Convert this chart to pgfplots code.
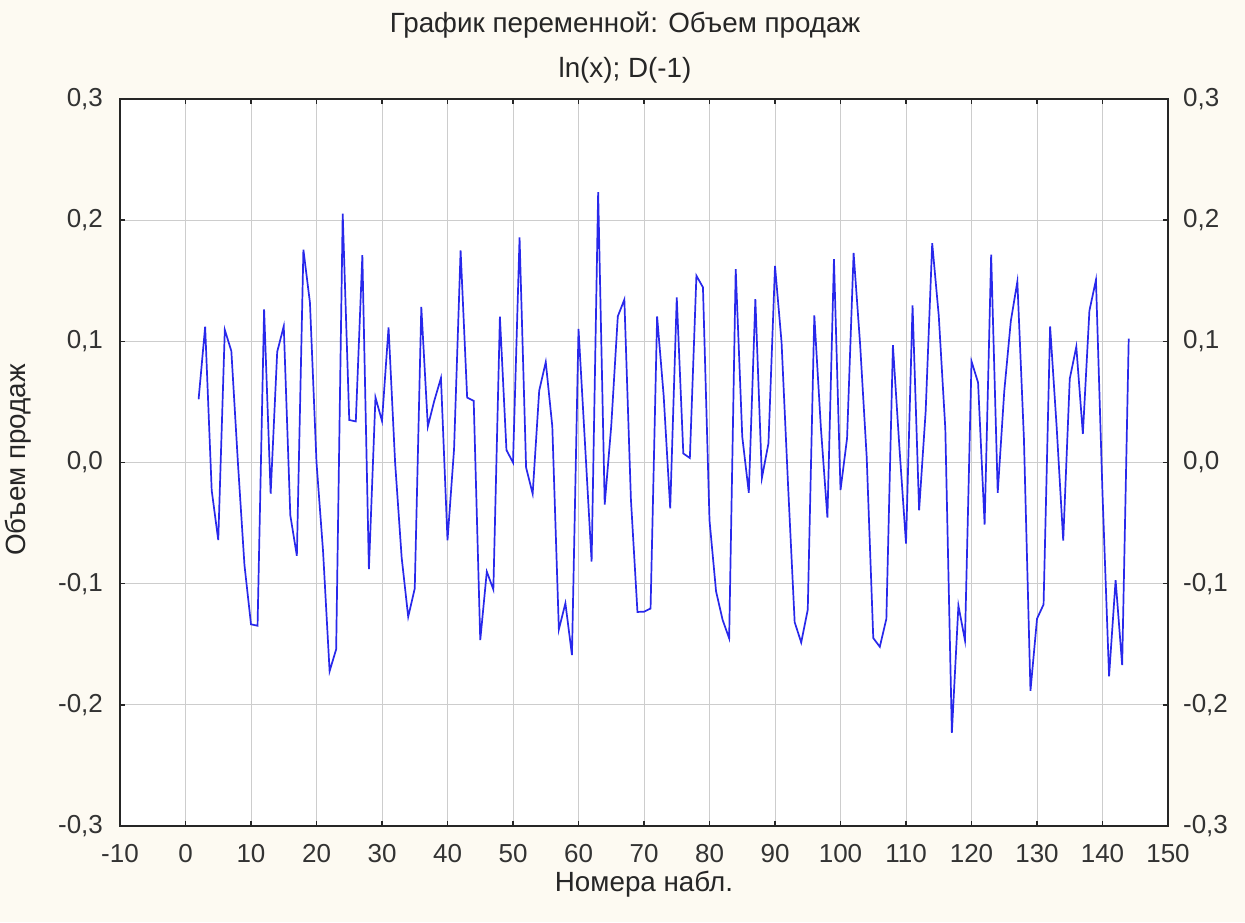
\documentclass[border=0pt]{standalone}
\usepackage{fontspec}
\setmainfont{Liberation Sans}
\usepackage{pgfplots}
\pgfplotsset{compat=1.18}
\definecolor{bgc}{RGB}{253,250,242}
\definecolor{gridc}{RGB}{205,205,205}
\definecolor{linec}{RGB}{40,40,235}
\begin{document}
\begin{tikzpicture}[x=1pt,y=1pt]
\fill[bgc] (0,0) rectangle (622.5,461);
\path[use as bounding box] (0,0) rectangle (622.5,461);
\begin{axis}[
  at={(60pt,48pt)}, anchor=south west,
  scale only axis, width=524pt, height=363.5pt,
  xmin=-10, xmax=150, ymin=-0.3, ymax=0.3,
  xtick={-10,0,...,150}, ytick={-0.3,-0.2,...,0.3},
  axis background/.style={fill=white},
  axis line style={line width=1pt, black!85},
  grid=major, major grid style={gridc, line width=0.5pt},
  tick align=inside, major tick length=2.5pt, tick style={black!85, line width=0.8pt},
  xtick pos=both, ytick pos=both,
  /pgf/number format/assume math mode=true,
  tick label style={font=\fontsize{13}{15}\selectfont, text=black!80},
  xticklabel style={inner sep=1pt, yshift=-8pt},
  yticklabel style={xshift=-5pt, /pgf/number format/.cd, fixed, fixed zerofill, precision=1, use comma},
]
\addplot[linec, line width=0.85pt] coordinates {
(2,0.05219) (3,0.11212) (4,-0.02299) (5,-0.06402) (6,0.10948) (7,0.09194) (8,0) (9,-0.08456) (10,-0.13353) (11,-0.13473)
(12,0.12629) (13,-0.02575) (14,0.09135) (15,0.11248) (16,-0.04349) (17,-0.07696) (18,0.17563) (19,0.13185) (20,0) (21,-0.07320)
(22,-0.17224) (23,-0.15415) (24,0.20544) (25,0.03509) (26,0.03390) (27,0.17115) (28,-0.08803) (29,0.05374) (30,0.03429) (31,0.11152)
(32,0) (33,-0.07837) (34,-0.12734) (35,-0.10399) (36,0.12838) (37,0.02968) (38,0.05129) (39,0.06973) (40,-0.06419) (41,0.01099)
(42,0.17501) (43,0.05358) (44,0.05086) (45,-0.14660) (46,-0.09006) (47,-0.10478) (48,0.12036) (49,0.01026) (50,0) (51,0.18572)
(52,-0.00425) (53,-0.02586) (54,0.05934) (55,0.08289) (56,0.02985) (57,-0.13774) (58,-0.11620) (59,-0.15890) (60,0.11035) (61,0.01482)
(62,-0.08168) (63,0.22314) (64,-0.03464) (65,0.03037) (66,0.12063) (67,0.13448) (68,-0.03026) (69,-0.12334) (70,-0.12311) (71,-0.12052)
(72,0.12052) (73,0.05522) (74,-0.03790) (75,0.13621) (76,0.00746) (77,0.00371) (78,0.15415) (79,0.14458) (80,-0.04783) (81,-0.10632)
(82,-0.12987) (83,-0.14507) (84,0.15956) (85,0.02135) (86,-0.02496) (87,0.13488) (88,-0.01270) (89,0.01585) (90,0.16220) (91,0.09919)
(92,-0.01956) (93,-0.13177) (94,-0.14853) (95,-0.12147) (96,0.12147) (97,0.02899) (98,-0.04546) (99,0.16782) (100,-0.02273) (101,0.01991)
(102,0.17289) (103,0.09703) (104,0.00429) (105,-0.14491) (106,-0.15209) (107,-0.12901) (108,0.09680) (109,0.01183) (110,-0.06690) (111,0.12959)
(112,-0.03944) (113,0.04220) (114,0.18094) (115,0.12110) (116,0.02811) (117,-0.22314) (118,-0.11809) (119,-0.14675) (120,0.08351) (121,0.06602)
(122,-0.05129) (123,0.17154) (124,-0.02494) (125,0.05884) (126,0.11672) (127,0.14930) (128,0.01987) (129,-0.18842) (130,-0.12891) (131,-0.11717)
(132,0.11224) (133,0.02920) (134,-0.06438) (135,0.06916) (136,0.09553) (137,0.02358) (138,0.12529) (139,0.15067) (140,-0.02606) (141,-0.17640)
(142,-0.09708) (143,-0.16725) (144,0.10228)
};
\end{axis}
\begin{axis}[
  at={(60pt,48pt)}, anchor=south west,
  scale only axis, width=524pt, height=363.5pt,
  xmin=-10, xmax=150, ymin=-0.3, ymax=0.3,
  ytick={-0.3,-0.2,...,0.3},
  hide x axis, axis y line*=right, axis line style={draw=none},
  major tick length=0pt,
  /pgf/number format/assume math mode=true,
  tick label style={font=\fontsize{13}{15}\selectfont, text=black!80},
  yticklabel style={xshift=4pt, /pgf/number format/.cd, fixed, fixed zerofill, precision=1, use comma},
]
\end{axis}
\node[font=\fontsize{13.9}{16}\selectfont, text=black!85, inner sep=0pt] at (312.5,448.5) {График переменной: Объем продаж};
\node[font=\fontsize{13.9}{16}\selectfont, text=black!85, inner sep=0pt] at (312.5,426) {ln(x); D(-1)};
\node[font=\fontsize{13.9}{16}\selectfont, text=black!85, inner sep=0pt] at (322,19) {Номера набл.};
\node[font=\fontsize{13.9}{16}\selectfont, text=black!85, rotate=90, inner sep=0pt] at (9,231) {Объем продаж};
\end{tikzpicture}
\end{document}
